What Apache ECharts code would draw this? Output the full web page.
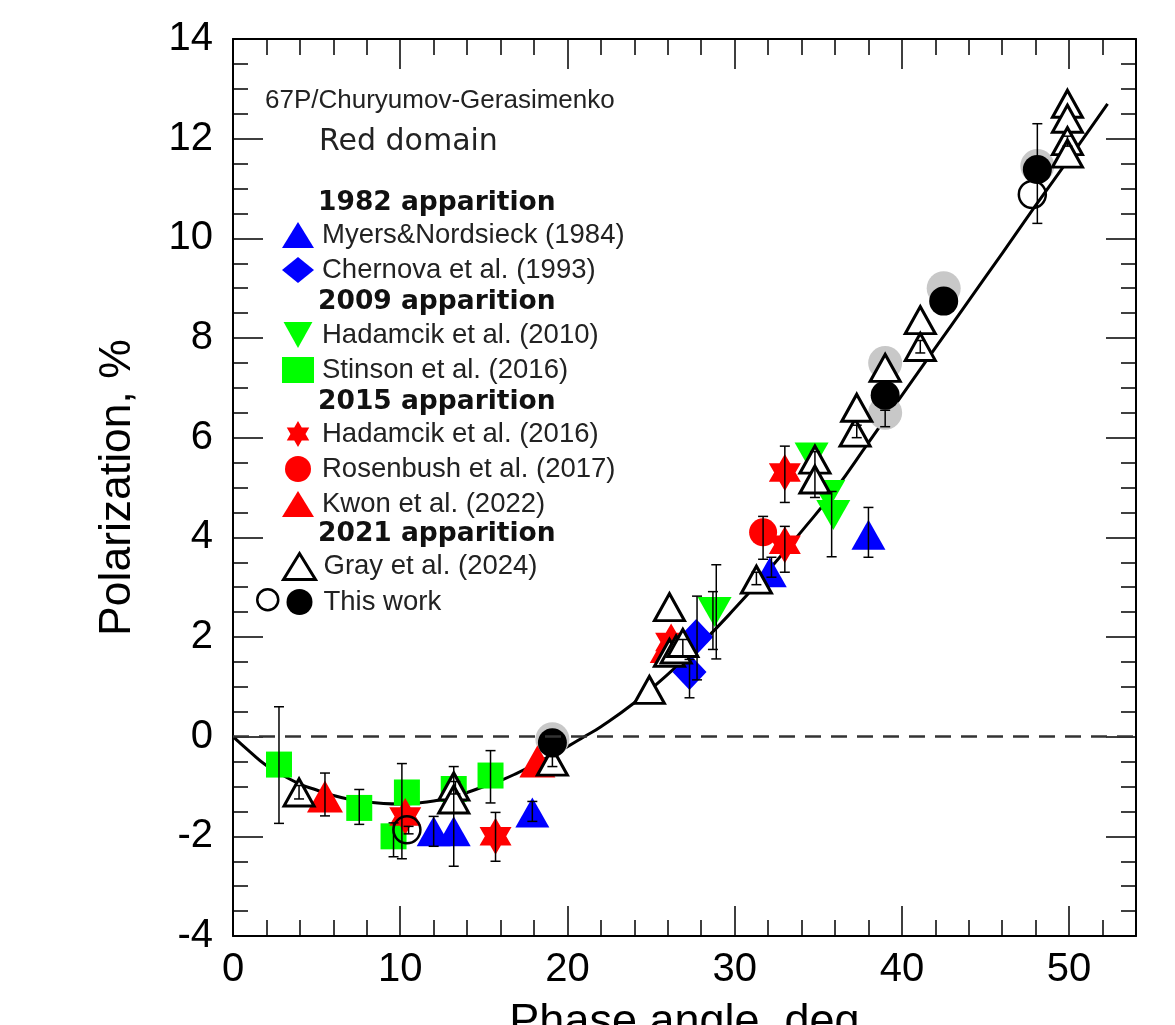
<!DOCTYPE html>
<html>
<head>
<meta charset="utf-8">
<script src="https://cdn.jsdelivr.net/npm/echarts@6/dist/echarts.min.js"></script>
<style>
  html, body { margin: 0; padding: 0; background: #fff; }
  #chart { width: 1175px; height: 1025px; }
</style>
</head>
<body>
<div id="chart"></div>
<script>
// fitted phase curve
const curveX = [0, 1, 2, 3, 4, 5, 6, 7, 8, 9, 10, 11, 12, 13, 14, 15, 16, 17, 18, 19, 20, 21, 22, 24, 26, 28, 30, 32, 34, 36, 38, 40, 42, 44, 46, 48, 50, 52.3]
const curveY = [0, -0.3, -0.58, -0.78, -0.95, -1.07, -1.18, -1.26, -1.31, -1.34, -1.35, -1.33, -1.29, -1.22, -1.12, -1.0, -0.88, -0.73, -0.56, -0.38, -0.2, 0.0, 0.2, 0.68, 1.25, 1.87, 2.57, 3.33, 4.12, 4.95, 5.9, 6.85, 7.8, 8.75, 9.7, 10.66, 11.6, 12.7]

// 1982 apparition
const myersX = [12.0, 13.2, 17.9, 32.1, 38.0]
const myersY = [-1.9, -1.9, -1.52, 3.3, 4.05]
const chernovaX = [27.3, 27.7]
const chernovaY = [1.3, 2.0]
// 2009 apparition
const hadamcik10X = [28.8, 34.6, 35.6, 35.9]
const hadamcik10Y = [2.5, 5.6, 4.85, 4.45]
const stinsonX = [2.75, 7.55, 9.6, 10.4, 13.2, 15.4]
const stinsonY = [-0.56, -1.43, -2.0, -1.12, -1.05, -0.78]
// 2015 apparition
const hadamcik16X = [10.3, 15.7, 26.2, 33.0, 33.0]
const hadamcik16Y = [-1.6, -2.0, 1.9, 3.85, 5.3]
const rosenbushX = [31.7]
const rosenbushY = [4.1]
const kwonX = [5.5, 18.2, 26.0]
const kwonY = [-1.2, -0.5, 1.8]
// 2021 apparition
const grayX = [3.95, 13.2, 13.2, 19.1, 24.9, 26.1, 26.1, 26.5, 26.9, 31.3, 34.8, 34.8, 37.2, 37.3, 39.0, 41.1, 41.1, 49.9, 49.9, 49.9, 49.9]
const grayY = [-1.12, -1.0, -1.26, -0.5, 0.94, 2.6, 1.68, 1.75, 1.88, 3.15, 5.56, 5.16, 6.1, 6.6, 7.4, 8.36, 7.82, 12.7, 12.4, 11.95, 11.7]
const workFilledX = [19.1, 39.0, 42.5, 48.1]
const workFilledY = [-0.12, 6.85, 8.74, 11.38]
const workOpenX = [10.4, 47.8]
const workOpenY = [-1.87, 10.88]
const workGreyX = [19.1, 39.0, 39.0, 42.5, 48.1]
const workGreyY = [-0.05, 7.5, 6.5, 9.0, 11.45]

// error bars: x, low, high
const errX = [2.75, 3.95, 5.5, 7.55, 9.6, 10.1, 10.5, 12.0, 13.2, 13.3, 15.4, 15.7, 17.9, 19.1, 26.9, 27.3, 27.75, 28.9, 28.7, 31.3, 31.7, 32.2, 33.0, 33.0, 34.8, 35.8, 37.3, 38.0, 39.0, 41.1, 48.1, 49.9]
const errLo = [-1.74, -1.25, -1.59, -1.76, -2.41, -2.45, -1.95, -2.2, -2.6, -1.15, -1.33, -2.5, -1.7, -0.6, 1.6, 0.78, 1.14, 1.56, 1.75, 3.05, 3.56, 3.2, 3.3, 4.7, 4.8, 3.61, 6.0, 3.6, 6.22, 7.7, 10.3, 11.85]
const errHi = [0.6, -0.98, -0.73, -1.06, -1.73, -0.54, -1.8, -1.6, -0.6, -0.9, -0.28, -1.52, -1.3, -0.4, 1.95, 1.55, 2.82, 3.45, 2.91, 3.3, 4.42, 3.6, 4.22, 5.83, 5.72, 4.92, 6.25, 4.6, 6.55, 7.95, 12.3, 12.05]

const FONT = 'Liberation Sans, Arial, sans-serif'
const STAR = 'path://M100,0L128.87,50L186.6,50L157.7,100L186.6,150L128.87,150L100,200L71.13,150L13.4,150L42.3,100L13.4,50L71.13,50Z'
const DOWN_TRI = 'path://M0,0L20,0L10,18Z'

function pairs(xs, ys) {
    return xs.map((x, i) => [x, ys[i]])
}

function scatter(name, xs, ys, symbol, size, style) {
    return {
        name: name,
        type: 'scatter',
        data: pairs(xs, ys),
        symbol: symbol,
        symbolSize: size,
        itemStyle: Object.assign({ opacity: 1 }, style),
        z: 3
    }
}

window.onload = function () {
    const chart = echarts.init(document.getElementById('chart'), null, { renderer: 'canvas' })

    const errData = errX.map((x, i) => [x, errLo[i], errHi[i]])

    const tickLine = { lineStyle: { color: '#000', width: 1.5 } }
    const xBase = { type: 'value', min: 0, max: 54, splitLine: { show: false } }
    const yBase = { type: 'value', min: -4, max: 14, interval: 2, splitLine: { show: false } }
    const line = { onZero: false, lineStyle: { color: '#000', width: 2 } }
    const noLine = { show: false, onZero: false }

    const legendBase = {
        orient: 'vertical',
        left: 282,
        padding: 0,
        itemWidth: 32,
        itemHeight: 26,
        itemGap: 7,
        selectedMode: false,
        textStyle: { fontSize: 27.5, color: '#222', fontFamily: FONT, lineHeight: 26, padding: [0, 0, 0, 3] }
    }

    const header = (text, cy) => ({
        type: 'text',
        left: 318,
        top: cy - 11,
        style: { text: text, fill: '#111', font: 'bold 26.5px DejaVu Sans, sans-serif' }
    })

    const option = {
        animation: false,
        backgroundColor: '#fff',
        grid: { left: 233, top: 39, right: 39, bottom: 89, containLabel: false, outerBoundsMode: 'none' },
        xAxis: [
            Object.assign({}, xBase, {
                position: 'bottom', interval: 10,
                name: 'Phase angle, deg', nameLocation: 'middle', nameGap: 64,
                nameTextStyle: { fontSize: 45, color: '#000', fontFamily: FONT },
                axisLine: line,
                axisTick: Object.assign({ inside: true, length: 30 }, tickLine),
                axisLabel: { fontSize: 40, color: '#000', fontFamily: FONT, margin: 14, showMaxLabel: false }
            }),
            Object.assign({}, xBase, {
                position: 'bottom', interval: 2,
                axisLine: noLine,
                axisTick: Object.assign({ inside: true, length: 16 }, tickLine),
                axisLabel: { show: false }
            }),
            Object.assign({}, xBase, {
                position: 'top', interval: 10,
                axisLine: line,
                axisTick: Object.assign({ inside: true, length: 30 }, tickLine),
                axisLabel: { show: false }
            }),
            Object.assign({}, xBase, {
                position: 'top', interval: 2,
                axisLine: noLine,
                axisTick: Object.assign({ inside: true, length: 16 }, tickLine),
                axisLabel: { show: false }
            })
        ],
        yAxis: [
            Object.assign({}, yBase, {
                position: 'left',
                name: 'Polarization, %', nameLocation: 'middle', nameGap: 93, nameRotate: 90,
                nameTextStyle: { fontSize: 44.5, color: '#000', fontFamily: FONT },
                axisLine: line,
                axisTick: Object.assign({ inside: true, length: 30 }, tickLine),
                minorTick: Object.assign({ show: true, splitNumber: 4, length: 15 }, tickLine),
                axisLabel: { fontSize: 40, color: '#000', fontFamily: FONT, margin: 20 }
            }),
            Object.assign({}, yBase, {
                position: 'right',
                axisLine: line,
                axisTick: Object.assign({ inside: true, length: 30 }, tickLine),
                minorTick: Object.assign({ show: true, splitNumber: 4, length: 15 }, tickLine),
                axisLabel: { show: false }
            })
        ],
        legend: [
            Object.assign({}, legendBase, { top: 221, data: ['Myers&Nordsieck (1984)', 'Chernova et al. (1993)'] }),
            Object.assign({}, legendBase, { top: 321, data: ['Hadamcik et al. (2010)', 'Stinson et al. (2016)'] }),
            Object.assign({}, legendBase, { top: 420, data: ['Hadamcik et al. (2016)', 'Rosenbush et al. (2017)', 'Kwon et al. (2022)'] }),
            Object.assign({}, legendBase, { top: 552, data: ['Gray et al. (2024)', 'This work'], itemStyle: { borderWidth: 3 } })
        ],
        graphic: [
            {
                type: 'text', left: 265, top: 88,
                style: { text: '67P/Churyumov-Gerasimenko', fill: '#222', font: '26px ' + FONT }
            },
            {
                type: 'text', left: 319, top: 127,
                style: { text: 'Red domain', fill: '#222', font: '30px DejaVu Sans, sans-serif' }
            },
            header('1982 apparition', 201),
            header('2009 apparition', 300),
            header('2015 apparition', 400),
            header('2021 apparition', 532),
            {
                type: 'circle', left: 256, top: 588,
                shape: { r: 10.5 },
                style: { fill: '#fff', stroke: '#000', lineWidth: 2.5 }
            }
        ],
        series: [
            {
                type: 'line',
                data: pairs(curveX, curveY),
                smooth: true,
                symbol: 'none',
                lineStyle: { color: '#000', width: 3 },
                z: 1,
                markLine: {
                    silent: true,
                    symbol: ['none', 'none'],
                    label: { show: false },
                    lineStyle: { color: '#333', width: 2.5, type: [16, 10] },
                    data: [{ yAxis: 0 }]
                }
            },
            scatter('grey', workGreyX, workGreyY, 'circle', 34, { color: '#c8c8c8' }),
            scatter('Stinson et al. (2016)', stinsonX, stinsonY, 'rect', 26, { color: '#00ff00' }),
            scatter('Hadamcik et al. (2010)', hadamcik10X, hadamcik10Y, DOWN_TRI, [34, 30], { color: '#00ff00' }),
            scatter('Chernova et al. (1993)', chernovaX, chernovaY, 'diamond', [34, 36], { color: '#0000ff' }),
            scatter('Myers&Nordsieck (1984)', myersX, myersY, 'triangle', [34, 30], { color: '#0000ff' }),
            scatter('Rosenbush et al. (2017)', rosenbushX, rosenbushY, 'circle', 28, { color: '#ff0000' }),
            scatter('Hadamcik et al. (2016)', hadamcik16X, hadamcik16Y, STAR, [32, 37], { color: '#ff0000' }),
            scatter('Kwon et al. (2022)', kwonX, kwonY, 'triangle', [36, 32], { color: '#ff0000' }),
            scatter('Gray et al. (2024)', grayX, grayY, 'triangle', [30, 27], { color: '#fff', borderColor: '#000', borderWidth: 3 }),
            scatter('open', workOpenX, workOpenY, 'circle', 27, { color: 'rgba(255,255,255,0)', borderColor: '#000', borderWidth: 2.5 }),
            scatter('This work', workFilledX, workFilledY, 'circle', 29, { color: '#000' }),
            {
                type: 'custom',
                data: errData,
                encode: { x: 0, y: [1, 2] },
                z: 10,
                renderItem: function (params, api) {
                    const x = api.value(0)
                    const p1 = api.coord([x, api.value(1)])
                    const p2 = api.coord([x, api.value(2)])
                    const w = 5
                    const st = { stroke: '#000', lineWidth: 1.5 }
                    return {
                        type: 'group',
                        children: [
                            { type: 'line', shape: { x1: p1[0], y1: p1[1], x2: p2[0], y2: p2[1] }, style: st },
                            { type: 'line', shape: { x1: p1[0] - w, y1: p1[1], x2: p1[0] + w, y2: p1[1] }, style: st },
                            { type: 'line', shape: { x1: p2[0] - w, y1: p2[1], x2: p2[0] + w, y2: p2[1] }, style: st }
                        ]
                    }
                }
            }
        ]
    }

    chart.setOption(option)
}
</script>
</body>
</html>
